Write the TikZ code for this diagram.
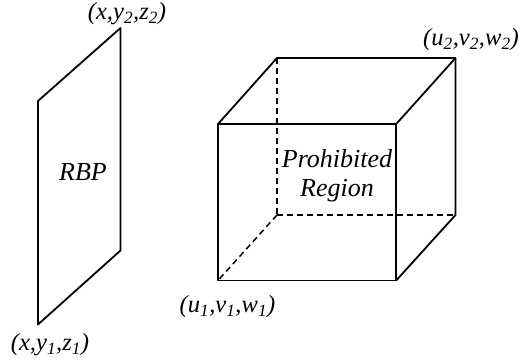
\documentclass[tikz,border=0pt]{standalone}
\usepackage{fontspec}
\setmainfont{Liberation Serif}
\begin{document}
\begin{tikzpicture}[x=1pt,y=-1pt,
  edge/.style={line width=1.8pt,line cap=round,line join=round},
  hidden/.style={line width=1.5pt,dash pattern=on 6pt off 4pt},
  lab/.style={font=\fontsize{26}{28}\selectfont\itshape,inner sep=0pt},
  coordlab/.style={font=\fontsize{24.6}{27}\selectfont\itshape,inner sep=0pt}]
\useasboundingbox (0,0) rectangle (520,363);
\coordinate (p1) at (38,101);
\coordinate (p2) at (120.5,28);
\coordinate (p3) at (120.5,250.5);
\coordinate (p4) at (38,324.5);
\draw[edge] (p1) -- (p2) -- (p3) -- (p4) -- cycle;
\coordinate (a) at (218,124);
\coordinate (b) at (396.2,124);
\coordinate (c) at (396.2,280.5);
\coordinate (d) at (218,280.5);
\coordinate (e) at (277,58);
\coordinate (f) at (455.5,58);
\coordinate (g) at (455.5,215);
\coordinate (h) at (277,215);
\draw[edge] (a) -- (b) -- (c) -- (d) -- cycle;
\draw[edge] (a) -- (e) -- (f) -- (g) -- (c);
\draw[edge] (b) -- (f);
\draw[hidden] (e) -- (h);
\draw[hidden] (h) -- (g);
\draw[hidden] (h) -- (d);
\node[lab] (rbp) at (83,172) {RBP};
\node[lab] (pr1) at (337,158.5) {Prohibited};
\node[lab] (pr2) at (337,190.5) {Region};
\node[coordlab] (t1) at (127,14) {(x,y\textsubscript{2},z\textsubscript{2})};
\node[coordlab] (t2) at (50,345) {(x,y\textsubscript{1},z\textsubscript{1})};
\node[coordlab] (t3) at (471,40) {(u\textsubscript{2},v\textsubscript{2},w\textsubscript{2})};
\node[coordlab] (t4) at (227.5,307) {(u\textsubscript{1},v\textsubscript{1},w\textsubscript{1})};
\end{tikzpicture}
\end{document}
